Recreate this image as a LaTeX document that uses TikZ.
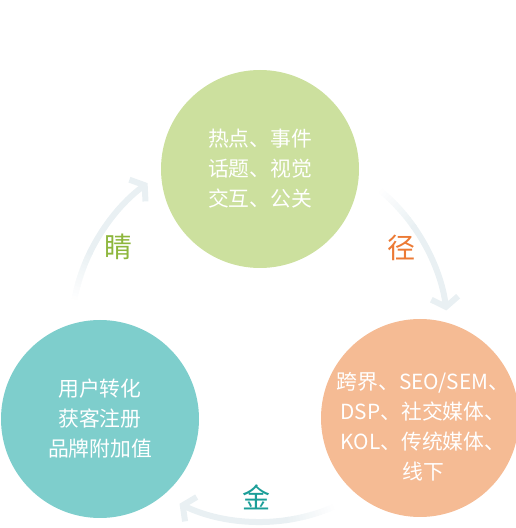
\documentclass[tikz,border=0pt]{standalone}
\usepackage{fontspec}
\setmainfont{Noto Sans CJK SC}
\usetikzlibrary{arrows.meta}
\definecolor{lvse}{HTML}{CCE09E}
\definecolor{juse}{HTML}{F5BB94}
\definecolor{qingse}{HTML}{7ECECC}
\definecolor{jianse}{HTML}{E9F0F3}
\definecolor{jingzi}{HTML}{8DB63C}
\definecolor{jingzi2}{HTML}{EC7A35}
\definecolor{jinzi}{HTML}{1B9E98}
\begin{document}
\begin{tikzpicture}[x=1pt,y=1pt,
  ball/.style={circle,minimum size=198pt,inner sep=0pt},
  wenzi/.style={text=white,align=center,font=\fontsize{20.8}{30}\selectfont},
  zi/.style={font=\fontsize{28}{28}\selectfont},
  jiantou/.style={line width=6pt,draw=jianse,-{Straight Barb[length=9pt,width=27pt]}}]
  \useasboundingbox (0,0) rectangle (515,528);
  \coordinate (o) at (260,193);
  % three circles
  \node[ball,fill=lvse,wenzi] (redian) at (260,359) {热点、事件\\话题、视觉\\交互、公关};
  \node[ball,fill=juse] (qudao) at (420,110) {};
  \node[wenzi] (qudao-t) at ([xshift=3pt,yshift=-9pt]qudao.center) {跨界、SEO/SEM、\\DSP、社交媒体、\\KOL、传统媒体、\\线下};
  \node[ball,fill=qingse,wenzi] (yonghu) at (100,109) {用户转化\\获客注册\\品牌附加值};
  % faded tails
  \foreach \i in {0,...,15} {
    \pgfmathsetmacro\m{\i*100/16}
    \draw[line width=6pt,draw=jianse!\m!white] ([shift={(51-\i:188)}]o) arc[start angle=51-\i, end angle=49.8-\i, radius=188];
    \draw[line width=6pt,draw=jianse!\m!white] ([shift={(170-\i:189)}]o) arc[start angle=170-\i, end angle=168.8-\i, radius=189];
    \draw[line width=6pt,draw=jianse!\m!white] ([shift={(-66-\i:187)}]o) arc[start angle=-66-\i, end angle=-67.2-\i, radius=187];
  }
  \draw[jiantou] ([shift={(35.5:188)}]o) arc[start angle=35.5, end angle=7.5, radius=188];
  \draw[jiantou] ([shift={(154.5:189)}]o) arc[start angle=154.5, end angle=126.5, radius=189];
  \draw[jiantou] ([shift={(-81.5:187)}]o) arc[start angle=-81.5, end angle=-115.5, radius=187];
  % labels
  \node[zi,text=jingzi2] (jing) at (401,280) {径};
  \node[zi,text=jingzi] (jing2) at (118,281) {睛};
  \node[zi,text=jinzi] (jin) at (256,31) {金};
\end{tikzpicture}
\end{document}
